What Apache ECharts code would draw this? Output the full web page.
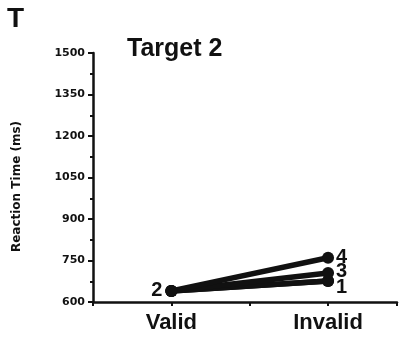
<!DOCTYPE html>
<html>
<head>
<meta charset="utf-8">
<script src="https://cdn.jsdelivr.net/npm/echarts@6/dist/echarts.min.js"></script>
<style>
  html, body { margin: 0; padding: 0; background: #fff; }
  #chart { width: 400px; height: 340px; }
</style>
</head>
<body>
<div id="chart"></div>
<script>
// Cue conditions along the x axis and where each sits on the value scale
const categories = ['Valid', 'Invalid'];
const categoryPos = [1, 3];

// Reaction time (ms) for each subject, one value per condition
const subjects = ['1', '2', '3', '4'];
const s1 = [640, 676];
const s2 = [640, 676];
const s3 = [640, 705];
const s4 = [640, 760];
const seriesValues = [s1, s2, s3, s4];

// Which condition carries each subject's number label
const labelAt = ['Invalid', 'Valid', 'Invalid', 'Invalid'];

const yTicks = [600, 750, 900, 1050, 1200, 1350, 1500];

const ink = '#111';
const chart = echarts.init(document.getElementById('chart'));

const series = subjects.map((name, si) => {
  const data = categories.map((c, ci) => {
    const item = { value: [categoryPos[ci], seriesValues[si][ci]] };
    if (labelAt[si] === c) {
      const left = ci === 0;
      item.label = {
        show: true,
        formatter: name,
        position: left ? 'left' : 'right',
        distance: left ? 3 : 2,
        offset: name === '1' ? [0, 7] : (name === '3' ? [0, -1] : [0, 0]),
        fontSize: 20,
        fontWeight: 'bold',
        fontFamily: 'Liberation Sans',
        color: ink
      };
    }
    return item;
  });
  return {
    name,
    type: 'line',
    data,
    symbol: 'circle',
    symbolSize: 12,
    itemStyle: { color: ink },
    lineStyle: { color: ink, width: 5.5 },
    z: 3 + si
  };
});

chart.setOption({
  animation: false,
  backgroundColor: '#fff',
  graphic: [
    {
      type: 'text', left: 7, top: 5,
      style: { text: 'T', font: 'bold 28px "Liberation Sans"', fill: ink }
    },
    {
      type: 'text', left: 127, top: 37,
      style: { text: 'Target 2', font: 'bold 25px "Liberation Sans"', fill: ink }
    }
  ],
  grid: { left: 93, right: 0, top: 53, bottom: 38 },
  xAxis: {
    type: 'value',
    min: 0,
    max: 3.88,
    interval: 1,
    axisLine: { lineStyle: { color: ink, width: 2.5 } },
    axisTick: { show: true, length: 4, lineStyle: { color: ink, width: 2 } },
    splitLine: { show: false },
    axisLabel: {
      formatter: v => {
        const i = categoryPos.indexOf(v);
        return i >= 0 ? categories[i] : '';
      },
      margin: 10,
      fontSize: 22,
      fontWeight: 'bold',
      fontFamily: 'Liberation Sans',
      color: ink
    }
  },
  yAxis: {
    type: 'value',
    min: yTicks[0],
    max: yTicks[yTicks.length - 1],
    interval: yTicks[1] - yTicks[0],
    name: 'Reaction Time (ms)',
    nameLocation: 'middle',
    nameGap: 70,
    nameTextStyle: {
      fontSize: 12,
      fontWeight: 'bold',
      fontFamily: 'DejaVu Sans',
      color: ink,
      padding: [0, 18, 0, 0]
    },
    axisLine: { show: true, lineStyle: { color: ink, width: 2.5 } },
    axisTick: { show: true, length: 5, lineStyle: { color: ink, width: 2 } },
    minorTick: { show: true, splitNumber: 2, length: 3, lineStyle: { color: ink, width: 2 } },
    splitLine: { show: false },
    axisLabel: {
      formatter: v => String(v),
      margin: 8,
      fontSize: 11,
      fontWeight: 'bold',
      fontFamily: 'DejaVu Sans',
      color: ink
    }
  },
  series
});
</script>
</body>
</html>
